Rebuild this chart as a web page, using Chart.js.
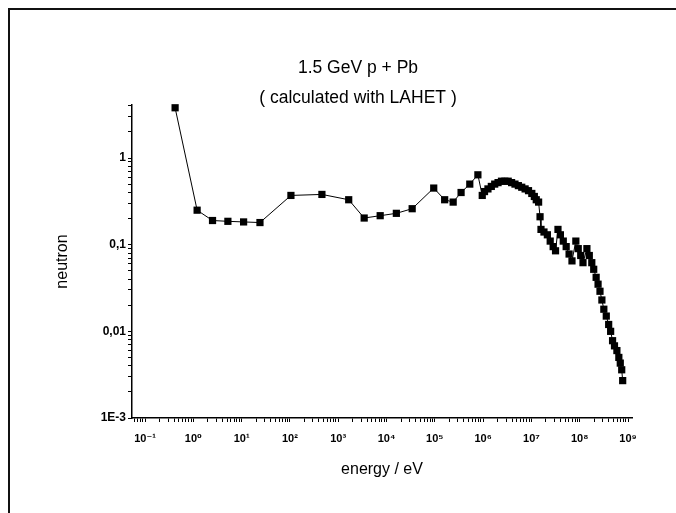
<!DOCTYPE html>
<html>
<head>
<meta charset="utf-8">
<script src="https://cdn.jsdelivr.net/npm/chart.js@4.4.1/dist/chart.umd.min.js"></script>
<style>
  html, body { margin: 0; padding: 0; background: #fff; }
  #wrap { position: relative; width: 676px; height: 513px; overflow: hidden; }
  #frame { position: absolute; left: 8px; top: 8px; width: 700px; height: 600px;
           border-left: 2px solid #111; border-top: 2px solid #111; }
  #myChart { position: absolute; left: 0; top: 0; }
</style>
</head>
<body>
<div id="wrap">
  <div id="frame"></div>
  <canvas id="myChart" width="676" height="513"></canvas>
</div>
<script>
// energy in eV, neutron yield
var energy = [0.42, 1.2, 2.5, 5.2, 11, 24, 105, 460,
  1650, 3450, 7400, 16000, 34000, 95000,
  1.6e5, 2.4e5, 3.5e5, 5.3e5, 7.8e5, 9.6e5,
  1.07e6, 1.26e6, 1.48e6, 1.74e6, 2.04e6, 2.40e6, 2.82e6, 3.31e6, 3.89e6, 4.57e6,
  5.37e6, 6.31e6, 7.41e6, 8.71e6, 1.02e7, 1.15e7, 1.26e7,
  1.41e7, 1.51e7, 1.58e7, 1.82e7, 2.14e7, 2.45e7, 2.82e7, 3.16e7,
  3.55e7, 3.98e7, 4.57e7, 5.25e7, 6.03e7, 6.92e7,
  8.32e7, 9.33e7, 1.05e8, 1.17e8,
  1.41e8, 1.58e8, 1.78e8, 1.95e8,
  2.19e8, 2.40e8, 2.63e8, 2.88e8, 3.16e8, 3.55e8, 3.98e8, 4.37e8, 4.79e8, 5.25e8,
  5.89e8, 6.46e8, 6.92e8, 7.41e8, 7.76e8];
var neutron = [3.8, 0.25, 0.19, 0.186, 0.183, 0.18, 0.37, 0.38,
  0.33, 0.203, 0.216, 0.23, 0.26, 0.45,
  0.33, 0.31, 0.40, 0.50, 0.64, 0.37,
  0.41, 0.44, 0.47, 0.50, 0.52, 0.54, 0.54, 0.54, 0.52, 0.50,
  0.48, 0.46, 0.44, 0.42, 0.39, 0.36, 0.33,
  0.31, 0.21, 0.15, 0.14, 0.13, 0.11, 0.095, 0.085,
  0.15, 0.13, 0.11, 0.095, 0.078, 0.065,
  0.11, 0.09, 0.075, 0.062,
  0.09, 0.075, 0.062, 0.052,
  0.042, 0.035, 0.029, 0.023, 0.018, 0.015, 0.012, 0.010, 0.0078, 0.0068,
  0.0060, 0.0050, 0.0043, 0.0036, 0.0027];

// axis ranges + tick labels
var xMin = 0.0538, xMax = 1.21e9;
var yMin = 0.001, yMax = 4.09;
var xTickValues = [0.1, 1, 10, 100, 1e3, 1e4, 1e5, 1e6, 1e7, 1e8, 1e9];
var xTickLabels = ['10\u207B\u00B9', '10\u2070', '10\u00B9', '10\u00B2', '10\u00B3', '10\u2074',
                   '10\u2075', '10\u2076', '10\u2077', '10\u2078', '10\u2079'];
var yTickValues = [0.001, 0.01, 0.1, 1];
var yTickLabels = ['1E-3', '0,01', '0,1', '1'];

Chart.defaults.font.family = "'Liberation Sans', Arial, 'DejaVu Sans', sans-serif";
Chart.defaults.color = '#000';

var points = energy.map(function(e, i) { return {x: e, y: neutron[i]}; });

// major decades plus 2..9 minor marks
function logTicks(decades, lo, hi) {
  var out = [];
  var d = decades[0] / 10;
  for (var j = 0; j <= decades.length; j++) {
    for (var k = 1; k < 10; k++) {
      var v = d * k;
      if (v >= lo && v <= hi) out.push({value: v});
    }
    d = d * 10;
  }
  return out;
}

function findLabel(v, values, labels) {
  for (var i = 0; i < values.length; i++) {
    if (Math.abs(Math.log10(v) - Math.log10(values[i])) < 1e-6) return labels[i];
  }
  return '';
}

var ctx = document.getElementById('myChart');
var neutronChart = new Chart(ctx, {
  type: 'scatter',
  data: {
    datasets: [{
      label: 'neutron',
      data: points,
      showLine: true,
      borderColor: '#000',
      borderWidth: 1,
      pointStyle: 'rect',
      pointRadius: 5.1,
      pointBackgroundColor: '#000',
      pointBorderWidth: 0,
      clip: false
    }]
  },
  options: {
    responsive: false,
    animation: false,
    layout: { padding: { left: 50, right: 10, top: 0, bottom: 33 } },
    plugins: {
      legend: { display: false },
      tooltip: { enabled: false },
      title: {
        display: true,
        text: '1.5 GeV p + Pb',
        color: '#000',
        font: { size: 17.5, weight: 'normal', lineHeight: '17px' },
        padding: { top: 59.5, bottom: 6 }
      },
      subtitle: {
        display: true,
        text: '( calculated with LAHET )',
        color: '#000',
        font: { size: 17.5, weight: 'normal', lineHeight: '14px' },
        padding: { top: 8.5, bottom: 0 }
      }
    },
    scales: {
      x: {
        type: 'logarithmic',
        position: 'bottom',
        min: xMin,
        max: xMax,
        afterBuildTicks: function(s) { s.ticks = logTicks(xTickValues, xMin, xMax); },
        afterFit: function(s) { s.height = 62; s.paddingRight = 44; s.paddingLeft = 0; },
        grid: { drawOnChartArea: false, drawTicks: true, tickLength: 4, color: '#000' },
        border: { display: true, color: '#000', width: 1.5 },
        ticks: {
          autoSkip: false, maxRotation: 0, padding: 10,
          font: { size: 11, weight: 'bold' },
          callback: function(v) { return findLabel(v, xTickValues, xTickLabels); }
        },
        title: {
          display: true, text: 'energy / eV',
          font: { size: 16 }, padding: { top: 0, bottom: 0.4 }
        }
      },
      y: {
        type: 'logarithmic',
        position: 'left',
        min: yMin,
        max: yMax,
        afterBuildTicks: function(s) { s.ticks = logTicks(yTickValues, yMin, yMax); },
        afterFit: function(s) { s.width = 82; },
        grid: { drawOnChartArea: false, drawTicks: true, tickLength: 4, color: '#000' },
        border: { display: true, color: '#000', width: 1.5 },
        ticks: {
          autoSkip: false, padding: 2,
          font: { size: 12, weight: 'bold' },
          callback: function(v) { return findLabel(v, yTickValues, yTickLabels); }
        },
        title: {
          display: true, text: 'neutron',
          font: { size: 16 }, padding: { top: 3, bottom: 0 }
        }
      }
    }
  }
});
</script>
</body>
</html>
